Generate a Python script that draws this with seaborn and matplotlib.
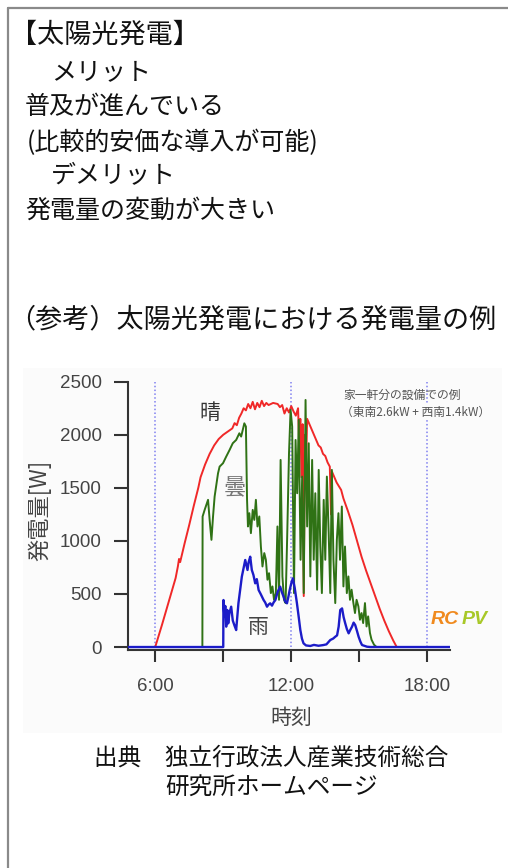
import numpy as np
import pandas as pd
import matplotlib
matplotlib.use('Agg')
import matplotlib.pyplot as plt
from matplotlib.lines import Line2D
from matplotlib.patches import Rectangle
import seaborn as sns

# --- data (hour of day, watts) ---
sunny_h = [4.8, 6.0, 6.3, 6.6, 6.9, 7.0, 7.05, 7.1, 7.3, 7.5, 7.7, 7.9, 8.0, 8.2, 8.4, 8.6, 8.8,
           9.0, 9.2, 9.4, 9.5, 9.6, 9.7, 9.8, 9.9, 10.0, 10.1, 10.2, 10.3, 10.4, 10.5, 10.6, 10.7,
           10.8, 10.9, 11.0, 11.2, 11.4, 11.5, 11.6, 11.7, 11.8, 11.9, 12.0, 12.1, 12.2, 12.3,
           12.35, 12.4, 12.45, 12.5, 12.55, 12.6, 12.65, 12.7, 12.8, 12.9, 13.0, 13.1, 13.2, 13.3,
           13.4, 13.5, 13.6, 13.7, 13.75, 13.8, 13.9, 14.0, 14.2, 14.3, 14.5, 14.7, 14.9, 15.1,
           15.3, 15.5, 15.7, 15.9, 16.1, 16.3, 16.5, 16.65, 19.0]
sunny_w = [0, 0, 210, 430, 650, 760, 830, 800, 980, 1150, 1330, 1500, 1600, 1720, 1820, 1900, 1960,
           2000, 2030, 2060, 2110, 2090, 2160, 2200, 2250, 2230, 2290, 2250, 2310, 2240, 2300, 2260, 2320,
           2270, 2300, 2280, 2300, 2290, 2260, 2280, 2200, 2250, 2210, 2270, 2220, 2180, 2250,
           1900, 2150, 1600, 2100, 480, 2000, 1700, 2150, 2100, 2050, 2000, 1950, 1900, 1880,
           1820, 1800, 1740, 1700, 1250, 1650, 1600, 1550, 1480, 1400, 1280, 1150, 1000, 850,
           720, 600, 480, 360, 250, 150, 60, 0, 0]

cloudy_h = [4.8, 8.08, 8.09, 8.18, 8.33, 8.40, 8.48, 8.55, 8.62, 8.77, 8.84, 8.99, 9.13, 9.28, 9.42,
            9.57, 9.71, 9.79, 9.86, 9.93, 10.00, 10.05, 10.09, 10.15, 10.22, 10.30, 10.37, 10.44,
            10.51, 10.59, 10.66, 10.73, 10.81, 10.88, 10.95, 11.02, 11.10, 11.17, 11.24, 11.32,
            11.39, 11.46, 11.53, 11.61, 11.68, 11.75, 11.82, 11.90, 11.97, 12.04, 12.12, 12.19,
            12.26, 12.33, 12.41, 12.48, 12.55, 12.63, 12.70, 12.77, 12.84, 12.92, 12.99, 13.06,
            13.14, 13.21, 13.28, 13.35, 13.43, 13.50, 13.57, 13.65, 13.72, 13.79, 13.86, 13.94,
            14.01, 14.08, 14.15, 14.23, 14.30, 14.37, 14.45, 14.52, 14.59, 14.66, 14.74, 14.81,
            14.88, 14.96, 15.03, 15.10, 15.17, 15.25, 15.32, 15.39, 15.47, 15.54, 15.65, 15.76, 19.0]
cloudy_w = [0, 0, 1230, 1292, 1387, 1198, 1010, 1230, 1418, 1637, 1700, 1732, 1794, 1857, 1920,
            1951, 2014, 1983, 2045, 2108, 2077, 1387, 1136, 1261, 1073, 1292, 1198, 1387,
            1136, 1230, 947, 759, 885, 822, 634, 696, 508, 571, 445, 508,
            1136, 445, 1763, 665, 445, 414, 1041, 1826, 2234, 2077, 508, 1951,
            1449, 2140, 822, 1606, 508, 2328, 1136, 1920, 665, 1763, 822, 1449,
            540, 1669, 947, 508, 1387, 822, 1606, 1073, 508, 1669, 822, 414,
            1010, 1261, 822, 1324, 571, 947, 508, 665, 445, 540, 414, 320,
            445, 383, 257, 320, 226, 414, 194, 289, 132, 69, 22, 0, 0]

rainy_h = [4.8, 9.0, 9.01, 9.05, 9.09, 9.13, 9.18, 9.22, 9.27, 9.35, 9.42, 9.5, 9.57, 9.67, 9.82,
           9.97, 10.07, 10.12, 10.19, 10.26, 10.33, 10.41, 10.48, 10.56, 10.65, 10.78, 10.85,
           10.93, 11.0, 11.07, 11.15, 11.22, 11.3, 11.4, 11.51, 11.58, 11.66, 11.73, 11.81,
           11.87, 11.93, 12.0, 12.07, 12.15, 12.25, 12.33, 12.4, 12.47, 12.54, 12.65, 12.84,
           13.0, 13.2, 13.4, 13.55, 13.72, 13.85, 13.94, 14.02, 14.09, 14.16, 14.24, 14.31,
           14.38, 14.45, 14.53, 14.6, 14.68, 14.75, 14.82, 14.9, 14.97, 15.05, 15.12, 15.34,
           15.5, 19.0]
rainy_w = [0, 0, 443, 286, 387, 192, 349, 223, 317, 380, 250, 200, 160, 412, 663,
           820, 726, 800, 851, 726, 680, 600, 640, 537, 500, 443, 420,
           380, 400, 412, 390, 420, 443, 520, 569, 520, 474, 430, 412,
           470, 537, 600, 647, 560, 412, 280, 160, 80, 35, 15, 10,
           20, 12, 18, 25, 66, 80, 97, 110, 192, 349, 364, 280,
           223, 170, 129, 160, 192, 230, 207, 150, 97, 50, 19, 3,
           0, 0]

ref_hours = [6, 12, 18]
x_ticks = [6, 9, 12, 15, 18]
x_tick_labels = ['6:00', '', '12:00', '', '18:00']
y_ticks = [0, 500, 1000, 1500, 2000, 2500]

sunny = pd.DataFrame({'hour': sunny_h, 'watt': sunny_w})
cloudy = pd.DataFrame({'hour': cloudy_h, 'watt': cloudy_w})
rainy = pd.DataFrame({'hour': rainy_h, 'watt': rainy_w})

sns.set_theme(style='ticks')
plt.rcParams['font.family'] = ['Noto Sans CJK JP', 'DejaVu Sans']

W, H = 508, 868
fig = plt.figure(figsize=(W / 100, H / 100), dpi=100)

def ftext(x, y, s, **kw):
    fig.text(x / W, 1 - y / H, s, va='center', ha='left', color='#111111', **kw)

# page frame (top and left only) and faint image background
fig.add_artist(Line2D([8 / W, 1], [1 - 8 / H, 1 - 8 / H], color='#8a8a8a', lw=1.6))
fig.add_artist(Line2D([8 / W, 8 / W], [0, 1 - 8 / H], color='#8a8a8a', lw=1.6))
fig.patches.append(Rectangle((23 / W, 1 - 733 / H), (502 - 23) / W, (733 - 368) / H,
                             transform=fig.transFigure, facecolor='#fbfbfb',
                             edgecolor='none', zorder=-1))

ftext(10, 35, '【太陽光発電】', fontsize=19.5)
ftext(51, 72, 'メリット', fontsize=18)
ftext(25, 107, '普及が進んでいる', fontsize=18)
ftext(27, 143, '(比較的安価な導入が可能)', fontsize=18)
ftext(51, 176, 'デメリット', fontsize=18)
ftext(25, 211, '発電量の変動が大きい', fontsize=18)
ftext(8, 320, '（参考）太陽光発電における発電量の例', fontsize=19.5)
ftext(94, 758, '出典　独立行政法人産業技術総合', fontsize=17)
ftext(165, 788, '研究所ホームページ', fontsize=17)

# chart
ax = fig.add_axes([128 / W, 1 - 650 / H, 322 / W, (650 - 381.7) / H])
ax.patch.set_alpha(0)

ax.vlines(ref_hours, 0, 2500, colors='#8080f0', linestyles=(0, (1, 1.5)), lw=1.1, zorder=1)

sns.lineplot(data=sunny, x='hour', y='watt', ax=ax, color='#f02828', lw=1.4, estimator=None, zorder=3)
sns.lineplot(data=cloudy, x='hour', y='watt', ax=ax, color='#2f7215', lw=1.4, estimator=None, zorder=4)
sns.lineplot(data=rainy, x='hour', y='watt', ax=ax, color='#1c1cc8', lw=1.7, estimator=None, zorder=5)

ax.set_xlim(4.8, 19.0)
ax.set_ylim(-28, 2500)
ax.set_xticks(x_ticks)
ax.set_xticklabels(x_tick_labels)
ax.set_yticks(y_ticks)
tick_font = ['Liberation Sans', 'DejaVu Sans']
for lab in ax.get_xticklabels() + ax.get_yticklabels():
    lab.set_family(tick_font)
    lab.set_fontsize(13.5)
    lab.set_color('#444444')
ax.tick_params(axis='y', length=10, width=1.5, color='#333333', pad=9)
ax.tick_params(axis='x', length=8.5, width=1.5, color='#333333', pad=12)
sns.despine(ax=ax)
for sp in ['left', 'bottom']:
    ax.spines[sp].set_color('#333333')
    ax.spines[sp].set_linewidth(1.5)

ax.set_xlabel('時刻', fontsize=15, color='#444444')
ax.xaxis.set_label_coords(0.506, -0.254)
ax.xaxis.label.set_va('center')
ax.set_ylabel('発電量[W]', fontsize=16, color='#444444')
ax.yaxis.set_label_coords(-0.273, 0.52)
ax.yaxis.label.set_va('center')

ax.text(8.43, 2203, '晴', fontsize=15, color='#333333', ha='center', va='center')
ax.text(9.53, 1496, '曇', fontsize=16, color='#777777', ha='center', va='center')
ax.text(10.56, 191, '雨', fontsize=15, color='#444444', ha='center', va='center')

ax.text(343 / W, 1 - 395 / H, '家一軒分の設備での例', transform=fig.transFigure,
        fontsize=8.5, color='#555555', va='center', ha='left')
ax.text(341 / W, 1 - 412 / H, '（東南2.6kW + 西南1.4kW）', transform=fig.transFigure,
        fontsize=8.5, color='#555555', va='center', ha='left',
        bbox=dict(facecolor='#fbfbfb', edgecolor='none', pad=1))

fig.text(431 / W, 1 - 620 / H, 'RC', fontsize=14, color='#f08a1e', fontweight='bold',
         style='italic', family=['Liberation Sans', 'DejaVu Sans'], va='center', ha='left')
fig.text(462 / W, 1 - 620 / H, 'PV', fontsize=14, color='#a8c828', fontweight='bold',
         style='italic', family=['Liberation Sans', 'DejaVu Sans'], va='center', ha='left')

fig.savefig('out.png', dpi=100)
